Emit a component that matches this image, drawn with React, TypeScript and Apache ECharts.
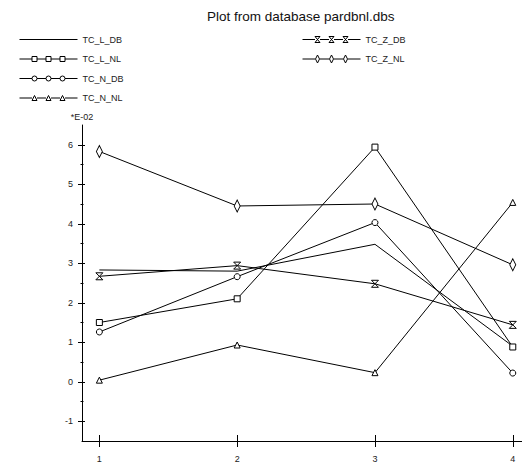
import React, { useEffect, useRef } from "react";
import * as echarts from "echarts";

const categories = [1, 2, 3, 4];
const seriesNames = ["TC_L_DB", "TC_L_NL", "TC_N_DB", "TC_N_NL", "TC_Z_DB", "TC_Z_NL"];
const tcLDB = [2.83, 2.8, 3.48, 0.9];
const tcLNL = [1.5, 2.1, 5.94, 0.88];
const tcNDB = [1.26, 2.66, 4.03, 0.22];
const tcNNL = [0.04, 0.93, 0.23, 4.54];
const tcZDB = [2.67, 2.94, 2.48, 1.44];
const tcZNL = [5.83, 4.45, 4.5, 2.96];
const yMajorTicks = [-1, 0, 1, 2, 3, 4, 5, 6];
const yMinorTicks = [-0.5, 0.5, 1.5, 2.5, 3.5, 4.5, 5.5];
const xTicks = [1, 2, 3, 4];

const FONT = "'Liberation Sans', Arial, sans-serif";

const HOURGLASS = "path://M0 0H8L0 10H8Z";

// legend icons drawn in a 58 x 8 box
const seg = "M0 4H12.5M17.5 4H26.5M31.5 4H40.5M45.5 4H58";
const squares = "M12.5 1.5H17.5V6.5H12.5ZM26.5 1.5H31.5V6.5H26.5ZM40.5 1.5H45.5V6.5H40.5Z";
const circles =
  "M12.5 4A2.5 2.5 0 1 0 17.5 4A2.5 2.5 0 1 0 12.5 4ZM26.5 4A2.5 2.5 0 1 0 31.5 4A2.5 2.5 0 1 0 26.5 4ZM40.5 4A2.5 2.5 0 1 0 45.5 4A2.5 2.5 0 1 0 40.5 4Z";
const triangles = "M15 1.5L17.5 6.5L12.5 6.5ZM29 1.5L31.5 6.5L26.5 6.5ZM43 1.5L45.5 6.5L40.5 6.5Z";
const hourglasses = "M12.5 1H17.5L12.5 7H17.5ZM26.5 1H31.5L26.5 7H31.5ZM40.5 1H45.5L40.5 7H45.5Z";
const diamonds = "M15 0L17 4L15 8L13 4ZM29 0L31 4L29 8L27 4ZM43 0L45 4L43 8L41 4Z";
const legendIcons = [
  "path://M0 0M0 4H58M58 8",
  "path://M0 0M58 8" + seg + squares,
  "path://M0 0M58 8" + seg + circles,
  "path://M0 0M58 8" + seg + triangles,
  "path://M0 0M58 8" + seg + hourglasses,
  "path://M0 0M58 8" + seg + diamonds,
];

const seriesValues = [tcLDB, tcLNL, tcNDB, tcNNL, tcZDB, tcZNL];
const seriesSymbols: any[] = ["none", "rect", "circle", "triangle", HOURGLASS, "diamond"];
const seriesSymbolSizes: any[] = [0, 6, 6, 6, [7, 7], [6, 12]];

export default function App() {
  const ref = useRef<HTMLDivElement>(null);
  useEffect(() => {
    if (!ref.current) return;
    const chart = echarts.init(ref.current, undefined, { renderer: "svg" });
    const xMin = 0.874;
    const xMax = 4.067;
    const yMin = -1.5;
    const yMax = 6.5;
    const legendCommon = {
      orient: "vertical" as const,
      itemWidth: 58,
      itemHeight: 8,
      itemGap: 10.5,
      selectedMode: false,
      itemStyle: { color: "#fff", borderColor: "#000", borderWidth: 1 },
      textStyle: { fontFamily: FONT, fontSize: 9, color: "#222", padding: [0, 0, 0, 0] },
    };
    const option: any = {
      animation: false,
      backgroundColor: "#fff",
      title: {
        text: "Plot from database pardbnl.dbs",
        left: 202,
        top: 4,
        textStyle: { fontFamily: FONT, fontSize: 13.5, fontWeight: "normal", color: "#111" },
      },
      legend: [
        {
          ...legendCommon,
          left: 14,
          top: 30,
          data: seriesNames.slice(0, 4).map((n, i) => ({ name: n, icon: legendIcons[i] })),
        },
        {
          ...legendCommon,
          left: 297,
          top: 30,
          data: seriesNames.slice(4).map((n, i) => ({ name: n, icon: legendIcons[i + 4] })),
        },
      ],
      grid: { left: 82, right: 0, top: 125, bottom: 23, containLabel: false },
      xAxis: [
        {
          type: "value",
          min: xMin,
          max: xMax,
          axisLine: { show: true, onZero: false, lineStyle: { color: "#000", width: 1 } },
          axisTick: { show: false },
          splitLine: { show: false },
          axisLabel: {
            customValues: xTicks,
            margin: 13,
            fontFamily: FONT,
            fontSize: 9,
            color: "#222",
          },
        },
        {
          type: "value",
          min: xMin,
          max: xMax,
          position: "bottom",
          offset: -6,
          axisLine: { show: false, onZero: false },
          axisTick: { show: true, customValues: xTicks, length: 12, lineStyle: { color: "#000" } },
          axisLabel: { show: false },
          splitLine: { show: false },
        },
      ],
      yAxis: [
        {
          type: "value",
          min: yMin,
          max: yMax,
          name: "*E-02",
          nameLocation: "end",
          nameGap: 4,
          nameTextStyle: { fontFamily: FONT, fontSize: 9, color: "#222", align: "center" },
          axisLine: { show: true, onZero: false, lineStyle: { color: "#000", width: 1 } },
          axisTick: { show: false },
          splitLine: { show: false },
          axisLabel: {
            customValues: yMajorTicks,
            margin: 9,
            fontFamily: FONT,
            fontSize: 9,
            color: "#222",
          },
        },
        {
          type: "value",
          min: yMin,
          max: yMax,
          position: "left",
          offset: -3,
          axisLine: { show: false, onZero: false },
          axisTick: { show: true, customValues: yMajorTicks, length: 7, lineStyle: { color: "#000" } },
          axisLabel: { show: false },
          splitLine: { show: false },
        },
        {
          type: "value",
          min: yMin,
          max: yMax,
          position: "left",
          offset: -1.5,
          axisLine: { show: false, onZero: false },
          axisTick: { show: true, customValues: yMinorTicks, length: 3, lineStyle: { color: "#000" } },
          axisLabel: { show: false },
          splitLine: { show: false },
        },
      ],
      series: seriesNames.map((name, i) => ({
        name,
        type: "line",
        xAxisIndex: 0,
        yAxisIndex: 0,
        data: categories.map((c, j) => [c, seriesValues[i][j]]),
        symbol: seriesSymbols[i],
        symbolSize: seriesSymbolSizes[i],
        showSymbol: seriesSymbols[i] !== "none",
        lineStyle: { color: "#000", width: 1 },
        itemStyle: { color: "#fff", borderColor: "#000", borderWidth: 1 },
        emphasis: { disabled: true },
        z: 2,
      })),
    };
    chart.setOption(option);
    return () => chart.dispose();
  }, []);
  return (
    <div
      ref={ref}
      style={{ position: "absolute", left: 0, top: 0, width: 522, height: 464 }}
    />
  );
}
